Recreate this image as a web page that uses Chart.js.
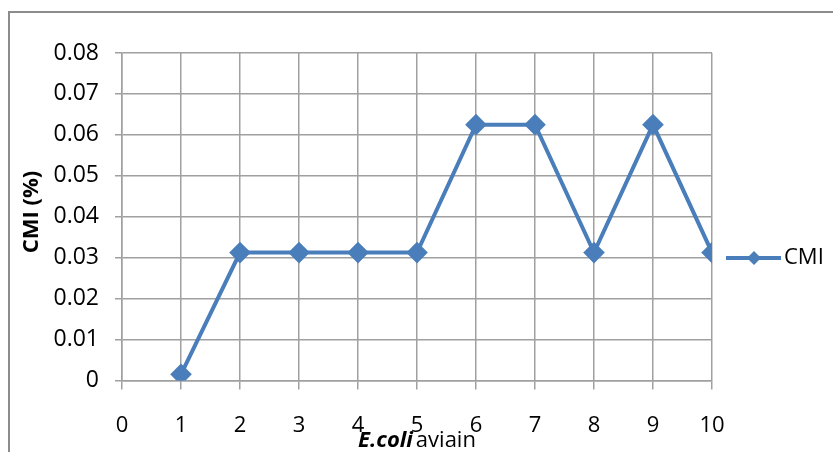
<!DOCTYPE html>
<html>
<head>
<meta charset="utf-8">
<script src="https://cdn.jsdelivr.net/npm/chart.js@4/dist/chart.umd.min.js"></script>
<style>
	html, body { margin: 0; padding: 0; background: #fff; overflow: hidden; }
	#moldura { position: absolute; left: 8px; top: 11px; width: 900px; height: 500px; border: 2px solid #8c8c8c; }
	#caixa { position: absolute; left: 0; top: 0; width: 833px; height: 452px; }
</style>
</head>
<body>
<div id="moldura"></div>
<div id="caixa"><canvas id="meu_grafico"></canvas></div>
<script>
//----------------------------------------Dados----------------------------------------
const isolats = [1, 2, 3, 4, 5, 6, 7, 8, 9, 10];
const valeurs_cmi = [0.0015, 0.03125, 0.03125, 0.03125, 0.03125, 0.0625, 0.0625, 0.03125, 0.0625, 0.03125];
const nom_serie = "CMI";
const titre_y = "CMI (%)";
const titre_x_gras = "E.coli";
const titre_x_normal = "aviain";

const cor_linha = '#4a7ebb';
const cor_grade = '#a0a0a0';
const fonte = '"Open Sans", sans-serif';

//----------------------------------------Plugin de textos----------------------------------------
const textos_extra = {
	id: 'textos_extra',
	afterDraw(chart){
		const ctx = chart.ctx;
		const area = chart.chartArea;
		ctx.save();
		ctx.fillStyle = '#000';

		//Titulo do eixo y
		ctx.font = 'bold 22px ' + fonte;
		ctx.translate(32, 212);
		ctx.rotate(-Math.PI / 2);
		ctx.textAlign = 'center';
		ctx.textBaseline = 'middle';
		ctx.fillText(titre_y, 0, 0);
		ctx.setTransform(1, 0, 0, 1, 0, 0);

		//Titulo do eixo x (parte em negrito italico + parte normal)
		ctx.textBaseline = 'alphabetic';
		ctx.textAlign = 'left';
		ctx.font = 'italic bold 22px ' + fonte;
		const w1 = ctx.measureText(titre_x_gras).width + 3;
		ctx.font = '22px ' + fonte;
		const w2 = ctx.measureText(titre_x_normal).width;
		const x0 = (area.left + area.right) / 2 - (w1 + w2) / 2;
		ctx.font = 'italic bold 22px ' + fonte;
		ctx.fillText(titre_x_gras, x0, 447);
		ctx.font = '22px ' + fonte;
		ctx.fillText(titre_x_normal, x0 + w1, 447);

		//Legenda
		const ly = 258;
		ctx.strokeStyle = cor_linha;
		ctx.lineWidth = 4;
		ctx.beginPath();
		ctx.moveTo(726, ly);
		ctx.lineTo(781, ly);
		ctx.stroke();
		ctx.fillStyle = cor_linha;
		ctx.beginPath();
		ctx.moveTo(754, ly - 7);
		ctx.lineTo(761, ly);
		ctx.lineTo(754, ly + 7);
		ctx.lineTo(747, ly);
		ctx.closePath();
		ctx.fill();
		ctx.fillStyle = '#000';
		ctx.font = '22px ' + fonte;
		ctx.textBaseline = 'middle';
		ctx.fillText(nom_serie, 784, ly);
		ctx.restore();
	}
};

//----------------------------------------Grafico----------------------------------------
const grafico = new Chart(document.getElementById('meu_grafico'), {
	type: 'line',
	data: {
		datasets: [{
			label: nom_serie,
			data: isolats.map((x, i) => ({ x: x, y: valeurs_cmi[i] })),
			borderColor: cor_linha,
			backgroundColor: cor_linha,
			borderWidth: 4,
			pointStyle: 'rectRot',
			pointRadius: 8,
			pointHoverRadius: 8,
			tension: 0
		}]
	},
	options: {
		responsive: true,
		maintainAspectRatio: false,
		animation: false,
		layout: { padding: { left: 0, right: 121, top: 53, bottom: 0 } },
		plugins: {
			legend: { display: false },
			tooltip: { enabled: false }
		},
		scales: {
			x: {
				type: 'linear',
				min: 0,
				max: 10,
				afterFit: s => { s.height = 71.5; },
				ticks: {
					stepSize: 1,
					padding: 23,
					color: '#000',
					font: { family: fonte, size: 22 }
				},
				grid: { color: cor_grade, lineWidth: 1.5, tickLength: 9 },
				border: { color: cor_grade, width: 1.5 }
			},
			y: {
				min: 0,
				max: 0.08,
				afterFit: s => { s.width = 122; },
				ticks: {
					stepSize: 0.01,
					padding: 16,
					color: '#000',
					font: { family: fonte, size: 23 },
					callback: v => Math.round(v * 100) === 0 ? '0' : (Math.round(v * 100) / 100).toFixed(2)
				},
				grid: { color: cor_grade, lineWidth: 1.5, tickLength: 7 },
				border: { color: cor_grade, width: 1.5 }
			}
		}
	},
	plugins: [textos_extra]
});
</script>
</body>
</html>
